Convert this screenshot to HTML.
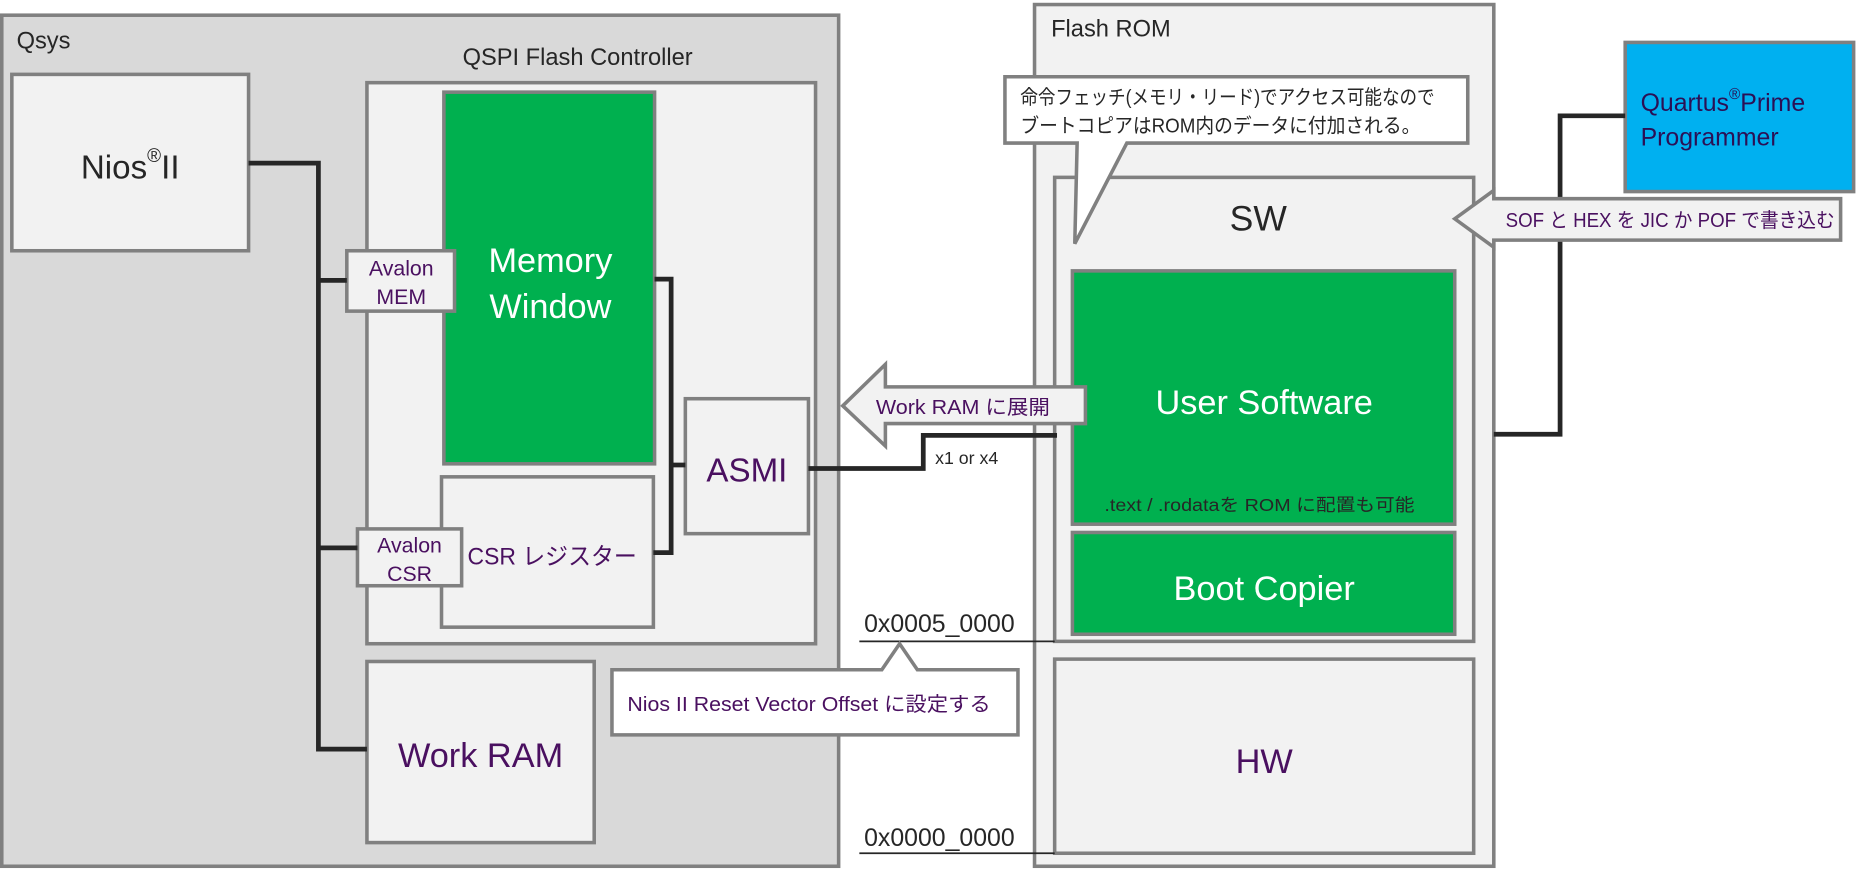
<!DOCTYPE html>
<html><head><meta charset="utf-8"><style>
html,body{margin:0;padding:0;background:#fff;}
svg{display:block;}
text{font-family:"Liberation Sans","Noto Sans CJK JP",sans-serif;}
</style></head><body>
<svg width="1856" height="872" viewBox="0 0 1568 735" xmlns="http://www.w3.org/2000/svg">
<g stroke="#808080" stroke-width="3">
<rect x="1.5" y="12" width="707" height="719" fill="#d9d9d9"/>
<rect x="10" y="62" width="200" height="149" fill="#f2f2f2"/>
<rect x="310" y="69" width="379" height="474" fill="#f2f2f2"/>
<rect x="375" y="77" width="178" height="314" fill="#00b04f"/>
<rect x="373" y="402" width="179" height="127" fill="#f2f2f2"/>
<rect x="293" y="211" width="91" height="51" fill="#f2f2f2"/>
<rect x="302" y="446" width="88" height="48" fill="#f2f2f2"/>
<rect x="579" y="336" width="104" height="114" fill="#f2f2f2"/>
<rect x="310" y="558" width="192" height="153" fill="#f2f2f2"/>
<rect x="874" y="3" width="388" height="728" fill="#f2f2f2"/>
<rect x="891" y="149" width="354" height="392" fill="#f2f2f2"/>
<rect x="906" y="228" width="323" height="214" fill="#00b04f"/>
<rect x="906" y="449" width="323" height="86" fill="#00b04f"/>
<rect x="891" y="556" width="354" height="164" fill="#f2f2f2"/>
<rect x="1373" y="35" width="193" height="126" fill="#00b0f0"/>
</g>
<g stroke="#262626" stroke-width="4" fill="none">
<polyline points="210,137 269,137 269,632 310,632"/>
<line x1="269" y1="236" x2="293" y2="236"/>
<line x1="269" y1="462" x2="302" y2="462"/>
<polyline points="553,235 567,235 567,466 552,466"/>
<line x1="567" y1="392" x2="579" y2="392"/>
<polyline points="683,395 780,395 780,367 893,367"/>
<polyline points="1373,97 1318,97 1318,366 1262,366"/>
</g>
<g stroke="#262626" stroke-width="1.5">
<line x1="726" y1="541" x2="891" y2="541"/>
<line x1="726" y1="720" x2="891" y2="720"/>
</g>
<path d="M517,565 L745,565 L760,543 L775,565 L860,565 L860,620 L517,620 Z" fill="#fff" stroke="#808080" stroke-width="3"/>
<path d="M849,64 L1240,64 L1240,120 L952,120 L908,205 L910,120 L849,120 Z" fill="#fff" stroke="#808080" stroke-width="3"/>
<path d="M712,342 L748,307 L748,326 L917,326 L917,357 L748,357 L748,376 Z" fill="#f2f2f2" stroke="#808080" stroke-width="3"/>
<path d="M1229,184 L1262,160 L1262,167 L1555,167 L1555,202 L1262,202 L1262,208 Z" fill="#f2f2f2" stroke="#808080" stroke-width="3"/>
<g fill="#262626">
<text x="14" y="40" font-size="20">Qsys</text>
<text x="488" y="54" font-size="20" text-anchor="middle">QSPI Flash Controller</text>
<text x="888" y="30" font-size="20">Flash ROM</text>
<text x="110" y="150" font-size="28" text-anchor="middle">Nios<tspan font-size="16" dy="-14">®</tspan><tspan dy="14">II</tspan></text>
<text x="1063" y="194" font-size="30" text-anchor="middle">SW</text>
<text x="933" y="431" font-size="15" textLength="262" lengthAdjust="spacingAndGlyphs">.text / .rodataを ROM に配置も可能</text>
<text x="790" y="391" font-size="15">x1 or x4</text>
<text x="730" y="533" font-size="21">0x0005_0000</text>
<text x="730" y="714" font-size="21">0x0000_0000</text>
<text x="862" y="87" font-size="17" textLength="350" lengthAdjust="spacingAndGlyphs">命令フェッチ(メモリ・リード)でアクセス可能なので</text>
<text x="862" y="111" font-size="17" textLength="338" lengthAdjust="spacingAndGlyphs">ブートコピアはROM内のデータに付加される。</text>
</g>
<g fill="#fff" text-anchor="middle" font-size="29">
<text x="465" y="229">Memory</text>
<text x="465" y="268">Window</text>
<text x="1068" y="349">User Software</text>
<text x="1068" y="506">Boot Copier</text>
</g>
<g fill="#4a1060">
<g text-anchor="middle">
<text x="339" y="232" font-size="18">Avalon</text>
<text x="339" y="256" font-size="18">MEM</text>
<text x="346" y="466" font-size="18">Avalon</text>
<text x="346" y="490" font-size="18">CSR</text>
<text x="631" y="406" font-size="28">ASMI</text>
<text x="406" y="647" font-size="29">Work RAM</text>
<text x="1068" y="652" font-size="29">HW</text>
</g>
<text x="395" y="476" font-size="20" textLength="143" lengthAdjust="spacingAndGlyphs">CSR レジスター</text>
<text x="530" y="600" font-size="17" textLength="307" lengthAdjust="spacingAndGlyphs">Nios II Reset Vector Offset に設定する</text>
<text x="740" y="349" font-size="17" textLength="147" lengthAdjust="spacingAndGlyphs">Work RAM に展開</text>
<text x="1272" y="191" font-size="17" textLength="278" lengthAdjust="spacingAndGlyphs">SOF と HEX を JIC か POF で書き込む</text>
</g>
<g fill="#2b1055" font-size="21">
<text x="1386" y="93">Quartus<tspan font-size="13" dy="-10">®</tspan><tspan dy="10">Prime</tspan></text>
<text x="1386" y="122">Programmer</text>
</g>
</svg>
</body></html>
